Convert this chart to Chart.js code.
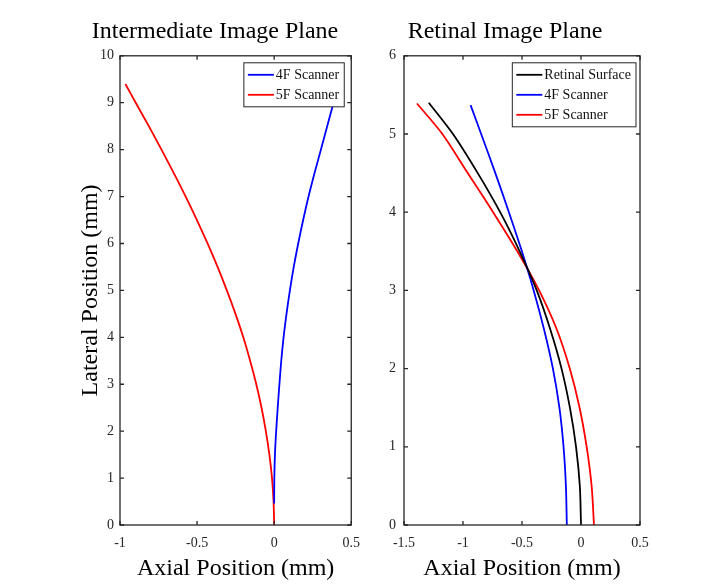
<!DOCTYPE html>
<html>
<head>
<meta charset="utf-8">
<script src="https://cdn.jsdelivr.net/npm/chart.js@4.4.1/dist/chart.umd.min.js"></script>
<style>
  html, body { margin: 0; padding: 0; background: #fff; }
  #wrap { position: relative; width: 702px; height: 585px; }
  #left { position: absolute; left: 0; top: 0; }
  #right { position: absolute; left: 370px; top: 0; }
</style>
</head>
<body>
<div id="wrap">
  <canvas id="left" width="370" height="585"></canvas>
  <canvas id="right" width="332" height="585"></canvas>
</div>
<script>
// Intermediate image plane (left panel)
const leftY4F = [0.46, 1, 1.5, 2, 2.5, 3, 3.5, 4, 4.5, 5, 5.5, 6, 6.5, 7, 7.5, 8, 8.5, 9, 9.4];
const leftX4F = [0, 0.001, 0.005, 0.013, 0.023, 0.034, 0.046, 0.061, 0.080, 0.102, 0.127, 0.156, 0.188, 0.223, 0.262, 0.303, 0.344, 0.385, 0.418];
const leftY5F = [0, 0.5, 1, 1.5, 2, 2.5, 3, 3.5, 4, 4.5, 5, 5.5, 6, 6.5, 7, 7.5, 8, 8.5, 9, 9.4];
const leftX5F = [0, -0.004, -0.014, -0.031, -0.054, -0.082, -0.116, -0.156, -0.20, -0.251, -0.307, -0.367, -0.432, -0.501, -0.574, -0.651, -0.731, -0.813, -0.898, -0.965];

// Retinal image plane (right panel)
const rightYRet = [0, 0.5, 1, 1.5, 2, 2.5, 3, 3.5, 4, 4.5, 5, 5.4];
const rightXRet = [0, -0.010, -0.042, -0.094, -0.165, -0.26, -0.375, -0.52, -0.685, -0.875, -1.085, -1.29];
const rightY4F = [0, 0.5, 1, 1.5, 2, 2.5, 3, 3.5, 4, 4.5, 5, 5.37];
const rightX4F = [-0.12, -0.128, -0.148, -0.183, -0.238, -0.313, -0.401, -0.501, -0.611, -0.726, -0.846, -0.936];
const rightY5F = [0, 0.5, 1, 1.5, 2, 2.5, 3, 3.5, 4, 4.5, 5, 5.39];
const rightX5F = [0.11, 0.09, 0.048, -0.012, -0.095, -0.205, -0.355, -0.54, -0.745, -0.96, -1.175, -1.39];

const titles = ["Intermediate Image Plane", "Retinal Image Plane"];
const xTitle = "Axial Position (mm)";
const yTitle = "Lateral Position (mm)";

const SERIF = "'Liberation Serif', 'Times New Roman', serif";
const AXIS = "#262626";
Chart.defaults.font.family = SERIF;

function pts(xs, ys) {
  return xs.map((x, i) => ({ x: x, y: ys[i] }));
}

function line(label, color, xs, ys) {
  return {
    label: label,
    data: pts(xs, ys),
    showLine: true,
    borderColor: color,
    backgroundColor: color,
    borderWidth: 1.8,
    pointRadius: 0,
    tension: 0.3,
    fill: false
  };
}

// matlab style tick text: -1, -0.5, 0, 0.5
function tickText(v) {
  return String(Math.round(v * 100) / 100);
}

// box, inward tick marks on all four sides and a matlab-like legend
const framePlugin = {
  id: "frame",
  afterDatasetsDraw(chart, args, opts) {
    const { ctx, chartArea: a, scales } = chart;
    const x = scales.x, y = scales.y;
    ctx.save();
    ctx.strokeStyle = AXIS;
    ctx.lineWidth = 1.3;
    ctx.strokeRect(a.left, a.top, a.right - a.left, a.bottom - a.top);
    ctx.beginPath();
    x.ticks.forEach(t => {
      const px = x.getPixelForValue(t.value);
      ctx.moveTo(px, a.bottom); ctx.lineTo(px, a.bottom - 4);
      ctx.moveTo(px, a.top); ctx.lineTo(px, a.top + 4);
    });
    y.ticks.forEach(t => {
      const py = y.getPixelForValue(t.value);
      ctx.moveTo(a.left, py); ctx.lineTo(a.left + 4, py);
      ctx.moveTo(a.right, py); ctx.lineTo(a.right - 4, py);
    });
    ctx.stroke();

    // legend
    const sets = chart.data.datasets;
    ctx.font = "14px " + SERIF;
    const textW = Math.max(...sets.map(d => ctx.measureText(d.label).width));
    const rowH = 20, sample = 26;
    const w = 4 + sample + 2 + textW + 5;
    const h = sets.length * rowH + 4;
    const bx = a.right - opts.margin - w;
    const by = a.top + 7;
    ctx.fillStyle = "#fff";
    ctx.fillRect(bx, by, w, h);
    ctx.lineWidth = 1;
    ctx.strokeStyle = AXIS;
    ctx.strokeRect(bx, by, w, h);
    ctx.textBaseline = "middle";
    ctx.textAlign = "left";
    sets.forEach((d, i) => {
      const cy = by + 2 + rowH / 2 + i * rowH;
      ctx.strokeStyle = d.borderColor;
      ctx.lineWidth = 1.8;
      ctx.beginPath();
      ctx.moveTo(bx + 4, cy);
      ctx.lineTo(bx + 4 + sample, cy);
      ctx.stroke();
      ctx.fillStyle = "#111";
      ctx.fillText(d.label, bx + 4 + sample + 2, cy + 1);
    });
    ctx.restore();
  }
};

function makeChart(id, cfg) {
  return new Chart(document.getElementById(id), {
    type: "scatter",
    data: { datasets: cfg.datasets },
    plugins: [framePlugin],
    options: {
      responsive: false,
      maintainAspectRatio: false,
      animation: false,
      layout: { padding: { left: cfg.padLeft, right: cfg.padRight, top: 0, bottom: 0 } },
      plugins: {
        legend: { display: false },
        tooltip: { enabled: false },
        frame: { margin: cfg.legendMargin },
        title: {
          display: true,
          text: cfg.title,
          color: "#000",
          font: { size: 24, weight: "normal", family: SERIF },
          padding: { top: 17, bottom: 10 }
        }
      },
      scales: {
        x: {
          type: "linear",
          min: cfg.xMin, max: cfg.xMax,
          afterFit: s => { s.height = 60; },
          grid: { display: false, drawTicks: false },
          border: { display: false },
          ticks: { stepSize: 0.5, padding: 10, color: AXIS, font: { size: 14 }, callback: tickText },
          title: {
            display: true, text: xTitle, color: "#000",
            font: { size: 24, family: SERIF }, padding: { top: 0, bottom: 2 }
          }
        },
        y: {
          type: "linear",
          min: 0, max: cfg.yMax,
          afterFit: s => { s.width = cfg.yWidth; },
          grid: { display: false, drawTicks: false },
          border: { display: false },
          ticks: { stepSize: 1, padding: cfg.yPad, color: AXIS, font: { size: 14 }, callback: tickText },
          title: {
            display: cfg.showYTitle, text: yTitle, color: "#000",
            font: { size: 24, family: SERIF }, padding: { top: 0, bottom: 0 }
          }
        }
      }
    }
  });
}

makeChart("left", {
  title: titles[0],
  datasets: [
    line("4F Scanner", "#0000ff", leftX4F, leftY4F),
    line("5F Scanner", "#ff0000", leftX5F, leftY5F)
  ],
  xMin: -1, xMax: 0.5, yMax: 10,
  padLeft: 76, padRight: 16, yWidth: 44, yPad: 6,
  showYTitle: true, legendMargin: 7
});

makeChart("right", {
  title: titles[1],
  datasets: [
    line("Retinal Surface", "#000000", rightXRet, rightYRet),
    line("4F Scanner", "#0000ff", rightX4F, rightY4F),
    line("5F Scanner", "#ff0000", rightX5F, rightY5F)
  ],
  xMin: -1.5, xMax: 0.5, yMax: 6,
  padLeft: 0, padRight: 62, yWidth: 34, yPad: 8,
  showYTitle: false, legendMargin: 4
});
</script>
</body>
</html>
